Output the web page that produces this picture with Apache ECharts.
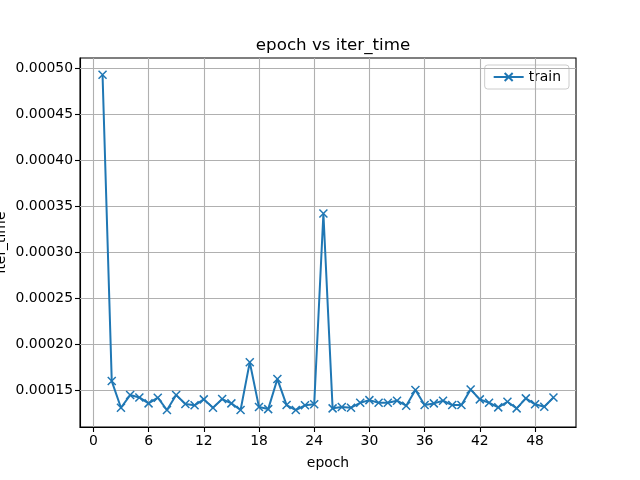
<!DOCTYPE html>
<html><head><meta charset="utf-8">
<script src="https://cdn.jsdelivr.net/npm/echarts@6/dist/echarts.min.js"></script>
<style>html,body{margin:0;padding:0;background:#fff}#c{width:640px;height:480px}</style>
</head><body><div id="c"></div>
<script>
const epochs = [1,2,3,4,5,6,7,8,9,10,11,12,13,14,15,16,17,18,19,20,21,22,23,24,25,26,27,28,29,30,31,32,33,34,35,36,37,38,39,40,41,42,43,44,45,46,47,48,49,50];
const iterTime = [0.0004935,0.0001598,0.0001308,0.0001446,0.000142,0.0001355,0.0001417,0.0001283,0.0001446,0.0001348,
0.0001334,0.0001399,0.0001308,0.0001402,0.0001355,0.0001283,0.0001804,0.0001315,0.0001293,0.000162,
0.0001337,0.0001283,0.0001334,0.0001345,0.0003424,0.0001301,0.0001315,0.0001308,0.0001362,0.0001391,
0.0001362,0.0001362,0.0001384,0.000133,0.00015,0.0001337,0.0001355,0.0001384,0.0001337,0.0001337,
0.0001507,0.0001399,0.0001362,0.0001312,0.0001373,0.0001301,0.000141,0.0001345,0.0001319,0.000142];
const xTicks = [0,6,12,18,24,30,36,42,48];
const yTicks = [0.00015,0.00020,0.00025,0.00030,0.00035,0.00040,0.00045,0.00050];

const font = 'DejaVu Sans';
const xMin = -1.45, xMax = 52.45, yMin = 0.0001098, yMax = 0.0005117;
const gridLines = xTicks.map(v => [{coord: [v, yMin]}, {coord: [v, yMax]}])
  .concat(yTicks.map(v => [{coord: [xMin, v]}, {coord: [xMax, v]}]));
const chart = echarts.init(document.getElementById('c'), null, {renderer: 'canvas'});
chart.setOption({
  animation: false,
  backgroundColor: '#fff',
  title: {text: 'epoch vs iter_time', left: 328, textAlign: 'center', top: 32,
    textStyle: {fontFamily: font, fontSize: 16.7, fontWeight: 'normal', color: '#000'}},
  legend: {right: 71, top: 65, padding: [5, 8, 5, 8], borderColor: '#cccccc', borderWidth: 1, borderRadius: 3,
    itemWidth: 30, itemHeight: 10, itemGap: 5,
    textStyle: {fontFamily: font, fontSize: 13.9, color: '#000'}, data: ['train']},
  grid: {left: 80, right: 64, top: 58, bottom: 53, outerBoundsMode: 'none', containLabel: false,
    show: true, borderColor: '#000', borderWidth: 1.1, backgroundColor: 'transparent'},
  xAxis: {type: 'value', min: xMin, max: xMax,
    name: 'epoch', nameLocation: 'middle', nameGap: 29, nameMoveOverlap: false,
    nameTextStyle: {fontFamily: font, fontSize: 13.9, color: '#000'},
    axisLine: {show: true, onZero: false, lineStyle: {color: '#000', width: 1.1}},
    axisTick: {show: true, length: 5, customValues: xTicks, lineStyle: {color: '#000', width: 1.1}},
    axisLabel: {show: true, customValues: xTicks, margin: 7, fontFamily: font, fontSize: 13.9, color: '#000'},
    splitLine: {show: false}},
  yAxis: {type: 'value', min: yMin, max: yMax,
    name: 'iter_time', nameLocation: 'middle', nameGap: 72, nameRotate: 90, nameMoveOverlap: false,
    nameTextStyle: {fontFamily: font, fontSize: 13.9, color: '#000'},
    axisLine: {show: true, onZero: false, lineStyle: {color: '#000', width: 1.1}},
    axisTick: {show: true, length: 5, customValues: yTicks, lineStyle: {color: '#000', width: 1.1}},
    axisLabel: {show: true, customValues: yTicks, margin: 7, fontFamily: font, fontSize: 13.9, color: '#000',
      formatter: v => v.toFixed(5)},
    splitLine: {show: false}},
  series: [{
    name: 'train', type: 'line', data: epochs.map((e, i) => [e, iterTime[i]]),
    symbol: 'path://M0,0L10,10M10,0L0,10', symbolSize: 8, showAllSymbol: true,
    itemStyle: {color: '#1f77b4', borderColor: '#1f77b4', borderWidth: 1.5},
    lineStyle: {color: '#1f77b4', width: 2},
    z: 5,
    markLine: {silent: true, symbol: 'none', label: {show: false}, animation: false, precision: 8,
      lineStyle: {color: '#b0b0b0', width: 1.1, type: 'solid'}, emphasis: {disabled: true},
      data: gridLines}
  }]
});
</script></body></html>
